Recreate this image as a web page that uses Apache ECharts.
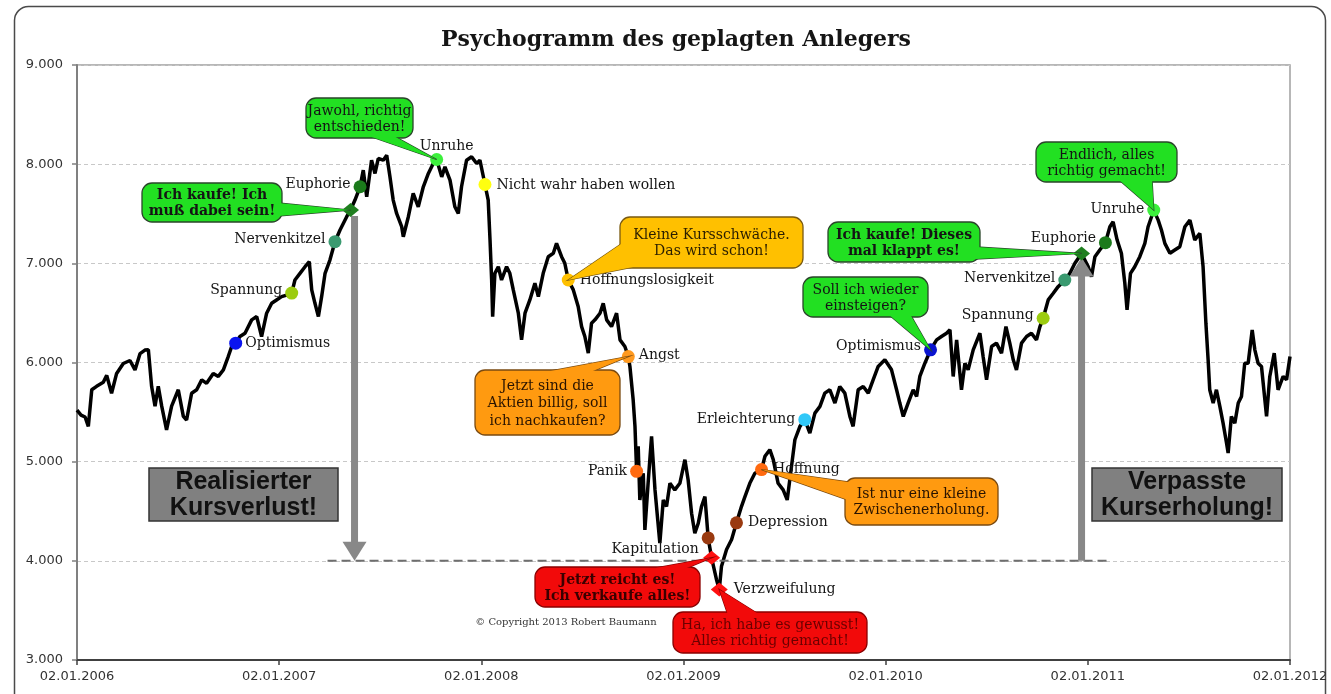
<!DOCTYPE html>
<html><head><meta charset="utf-8">
<script src="https://cdn.jsdelivr.net/npm/echarts@6/dist/echarts.min.js"></script>
<style>html,body{margin:0;padding:0;background:#fff}#c{width:1331px;height:694px}</style>
</head><body><div id="c"></div>
<script>
// ---------- DATA ----------
const titleText = 'Psychogramm des geplagten Anlegers';
const copyrightText = '\u00A9 Copyright 2013 Robert Baumann';

// dates as decimal years, values of the index
const dates = [
 2006.000,2006.020,2006.040,2006.056,2006.073,2006.097,2006.130,2006.147,2006.171,2006.196,2006.229,2006.262,2006.287,2006.312,2006.336,2006.353,2006.369,2006.386,2006.402,2006.419,2006.443,2006.468,2006.501,2006.526,2006.542,2006.567,2006.592,2006.617,2006.641,2006.674,2006.699,2006.724,2006.748,2006.765,2006.785,2006.806,2006.831,2006.864,2006.889,2006.913,2006.938,2006.963,2006.987,
 2007.012,2007.037,2007.062,2007.078,2007.103,2007.128,2007.149,2007.161,2007.177,2007.194,2007.210,2007.227,2007.251,2007.276,2007.301,2007.334,2007.353,2007.375,2007.400,2007.416,2007.433,2007.457,2007.474,2007.490,2007.515,2007.532,2007.548,2007.564,2007.581,2007.606,2007.614,2007.639,2007.663,2007.688,2007.713,2007.738,2007.762,2007.779,2007.804,2007.820,2007.845,2007.869,2007.886,2007.902,2007.927,2007.952,2007.977,2007.993,
 2008.001,2008.018,2008.034,2008.043,2008.051,2008.056,2008.067,2008.084,2008.100,2008.125,2008.141,2008.158,2008.183,2008.199,2008.216,2008.240,2008.265,2008.282,2008.306,2008.331,2008.356,2008.372,2008.397,2008.413,2008.430,2008.455,2008.479,2008.496,2008.512,2008.529,2008.545,2008.562,2008.587,2008.603,2008.620,2008.644,2008.669,2008.686,2008.710,2008.727,2008.735,2008.751,2008.760,2008.768,2008.776,2008.784,2008.801,2008.809,2008.826,2008.842,2008.859,2008.883,2008.900,2008.916,2008.933,2008.957,2008.982,
 2009.007,2009.023,2009.040,2009.056,2009.073,2009.089,2009.106,2009.122,2009.139,2009.163,2009.177,2009.188,2009.213,2009.238,2009.262,2009.287,2009.304,2009.328,2009.353,2009.386,2009.403,2009.427,2009.444,2009.468,2009.493,2009.513,2009.534,2009.551,2009.576,2009.600,2009.625,2009.650,2009.675,2009.699,2009.724,2009.749,2009.773,2009.798,2009.823,2009.839,2009.864,2009.889,2009.914,2009.938,2009.963,2009.996,
 2010.004,2010.029,2010.054,2010.070,2010.087,2010.111,2010.136,2010.153,2010.169,2010.194,2010.222,2010.252,2010.276,2010.301,2010.318,2010.334,2010.351,2010.375,2010.392,2010.408,2010.433,2010.466,2010.482,2010.499,2010.524,2010.548,2010.573,2010.595,2010.614,2010.631,2010.647,2010.672,2010.697,2010.721,2010.746,2010.763,2010.779,2010.804,2010.829,2010.853,2010.886,2010.911,2010.936,2010.969,
 2011.002,2011.018,2011.035,2011.059,2011.087,2011.109,2011.125,2011.145,2011.166,2011.183,2011.194,2011.211,2011.232,2011.257,2011.282,2011.298,2011.315,2011.326,2011.348,2011.364,2011.381,2011.406,2011.430,2011.455,2011.480,2011.505,2011.529,2011.554,2011.570,2011.584,2011.595,2011.603,2011.620,2011.636,2011.653,2011.669,2011.686,2011.694,2011.710,2011.727,2011.744,2011.760,2011.776,2011.793,2011.813,2011.826,2011.842,2011.859,2011.884,2011.900,2011.922,2011.941,2011.966,2011.983,2012.000
];
const dax = [
 5520,5470,5450,5356,5725,5760,5800,5870,5690,5890,5990,6020,5925,6090,6125,6130,5760,5560,5760,5560,5320,5560,5725,5456,5420,5690,5725,5825,5790,5890,5860,5925,6060,6160,6195,6262,6295,6430,6463,6262,6497,6597,6630,
 6664,6680,6700,6832,6899,6966,7016,6732,6597,6463,6664,6899,7033,7218,7336,7470,7537,7638,7772,7940,7671,8040,7906,8057,8040,8090,7872,7638,7503,7369,7268,7470,7705,7570,7772,7906,8007,8047,7872,7973,7839,7570,7503,7772,8040,8074,8007,8040,
 8050,7795,7638,7235,6832,6463,6899,6966,6832,6966,6899,6732,6497,6228,6497,6631,6799,6664,6899,7067,7101,7201,7067,7000,6832,6732,6564,6362,6262,6094,6396,6430,6497,6597,6430,6362,6497,6228,6161,6060,5960,5624,5356,4903,5154,4614,4883,4312,4815,5255,4715,4178,4614,4547,4782,4715,4782,
 5020,4815,4480,4279,4379,4547,4648,4231,4030,3812,3711,3946,4114,4215,4383,4550,4648,4782,4883,4920,5054,5121,5020,4782,4715,4614,4950,5221,5356,5423,5289,5490,5557,5691,5725,5591,5758,5691,5456,5356,5725,5758,5691,5825,5960,6027,
 6027,5926,5725,5591,5456,5591,5725,5658,5859,5993,6128,6228,6262,6295,6329,5859,6228,5725,5993,5926,6128,6295,6060,5826,6161,6195,6094,6362,6195,6027,5926,6195,6262,6295,6228,6362,6446,6631,6698,6765,6832,6899,7000,7100,
 6966,6866,7067,7134,7208,7369,7419,7235,7101,6799,6530,6899,6966,7067,7201,7369,7470,7537,7436,7336,7201,7101,7134,7168,7369,7436,7235,7302,6966,6396,6027,5725,5591,5725,5557,5389,5188,5087,5456,5389,5591,5658,5993,5993,6329,6128,5993,5960,5456,5859,6094,5725,5859,5826,6060
];

// phases of the investor psychology, placed on the curve
const moodNames = ['Optimismus','Spannung','Nervenkitzel','Kauf','Euphorie','Unruhe','Nicht wahr haben wollen','Hoffnungslosigkeit','Angst','Panik','Kapitulation','Verkauf','Verzweifulung','Depression','Hoffnung','Erleichterung','Optimismus','Spannung','Nervenkitzel','Kauf','Euphorie','Unruhe'];
const moodDates  = [2006.785,2007.062,2007.276,2007.353,2007.400,2007.779,2008.018,2008.430,2008.727,2008.768,2009.122,2009.139,2009.177,2009.262,2009.386,2009.600,2010.222,2010.779,2010.886,2010.969,2011.087,2011.326];
const moodValues = [6195,6700,7218,7537,7772,8047,7795,6832,6060,4903,4231,4030,3711,4383,4920,5423,6128,6446,6832,7100,7208,7537];

// speech bubbles: text and the phase they point to
const calloutTexts = [
 'Jawohl, richtig\nentschieden!',
 'Ich kaufe! Ich\nmuß dabei sein!',
 'Kleine Kursschwäche.\nDas wird schon!',
 'Jetzt sind die\nAktien billig, soll\nich nachkaufen?',
 'Ich kaufe! Dieses\nmal klappt es!',
 'Soll ich wieder\neinsteigen?',
 'Endlich, alles\nrichtig gemacht!',
 'Ist nur eine kleine\nZwischenerholung.',
 'Jetzt reicht es!\nIch verkaufe alles!',
 'Ha, ich habe es gewusst!\nAlles richtig gemacht!'
];
const calloutTargets = [5,3,7,8,19,16,21,14,11,12];

const boxTexts = ['Realisierter\nKursverlust!','Verpasste\nKurserholung!'];
const lossLevel = 4000;

// ---------- STYLES / LAYOUT ----------
const SERIF = '"DejaVu Serif", "Liberation Serif", serif';
const SANS = '"DejaVu Sans", sans-serif';
const moodStyle = [
 {c:'#0a14f0', pos:'right'},
 {c:'#9ccc10', pos:'left', off:[0,-3]},
 {c:'#3a9a70', pos:'left', off:[0,-2]},
 {c:'#1f7f1f', d:true},
 {c:'#1b7a1b', pos:'left', off:[0,-2]},
 {c:'#3cf03c', pos:'top', off:[10,3]},
 {c:'#ffff10', pos:'right', off:[2,1]},
 {c:'#ffc000', pos:'right', off:[2,0]},
 {c:'#ff9a20', pos:'right', off:[1,-1]},
 {c:'#ff6a10', pos:'left'},
 {c:'#9a3a10', pos:'left', off:[0,11]},
 {c:'#ff1010', d:true},
 {c:'#ff1010', d:true, pos:'right', off:[3,0]},
 {c:'#9a3a10', pos:'right', off:[2,0]},
 {c:'#ff6a10', pos:'right', off:[2,0]},
 {c:'#30c8f8', pos:'left'},
 {c:'#0a14d0', pos:'left', off:[0,-3]},
 {c:'#9ccc10', pos:'left', off:[0,-3]},
 {c:'#3a9a70', pos:'left', off:[0,-2]},
 {c:'#1f7f1f', d:true},
 {c:'#1b7a1b', pos:'left', off:[0,-4]},
 {c:'#3cf03c', pos:'left', off:[0,-1]}
];
const bubbleKinds = {
 green:{fill:'#22e022', stroke:'#2a452a', text:'#141414'},
 gold:{fill:'#ffc000', stroke:'#7a5a10', text:'#2a1e00'},
 orange:{fill:'#ff9a10', stroke:'#7a4a10', text:'#2a1400'},
 red:{fill:'#f20a0a', stroke:'#8a0000', text:'#3a0000'},
 red2:{fill:'#f20a0a', stroke:'#8a0000', text:'#6a0000'}
};
// box [x,y,w,h], tail base points (px), kind, bold
const calloutLayout = [
 {box:[306,98,107,40], base:[[366,135],[392,135]], kind:'green'},
 {box:[142,183,140,39], base:[[278,203],[278,216]], kind:'green', bold:true},
 {box:[620,217,183,51], base:[[624,242],[648,264]], kind:'gold'},
 {box:[475,370,145,65], base:[[540,373],[588,373]], kind:'orange'},
 {box:[828,222,152,40], base:[[976,247],[976,259]], kind:'green', bold:true},
 {box:[803,277,125,40], base:[[888,314],[910,314]], kind:'green'},
 {box:[1036,142,141,40], base:[[1118,179],[1152,179]], kind:'green'},
 {box:[845,478,153,47], base:[[848,482],[848,500]], kind:'orange'},
 {box:[535,567,165,40], base:[[645,570],[682,570]], kind:'red', bold:true},
 {box:[673,612,194,41], base:[[728,615],[760,615]], kind:'red2'}
];
const grayBoxes = [[149,468,189,53],[1092,468,190,53]];

// ---------- CHART ----------
const chart = echarts.init(document.getElementById('c'));
const lineData = dates.map((d,i)=>[d, dax[i]]);
const moodItems = moodNames.map((n,i)=>{
  const s = moodStyle[i];
  return {
    name:n, value:[moodDates[i], moodValues[i]],
    symbol: s.d ? 'diamond' : 'circle',
    symbolSize: s.d ? [17,14] : 13,
    itemStyle:{color:s.c, opacity:1},
    label:{show:!!s.pos, position:s.pos||'right', offset:s.off||[0,0], distance:3, formatter:n, color:'#151515', fontFamily:SERIF, fontSize:14}
  };
});

chart.setOption({
  animation:false,
  grid:{left:77,right:41,top:65,bottom:34,show:true,borderColor:'#a0a0a0',borderWidth:1.5,backgroundColor:'transparent'},
  xAxis:{type:'value',min:2006,max:2012,interval:1,
    axisLine:{lineStyle:{color:'#404040',width:2}},
    axisTick:{show:true,length:5,lineStyle:{color:'#404040',width:1.5}},
    axisLabel:{formatter:v=>'02.01.'+v,fontFamily:SANS,fontSize:13,color:'#333',margin:10},
    splitLine:{show:false}},
  yAxis:{type:'value',min:3000,max:9000,interval:1000,
    axisLine:{show:true,lineStyle:{color:'#808080',width:2}},
    axisTick:{show:true,length:5,lineStyle:{color:'#808080',width:1.5}},
    axisLabel:{formatter:v=>(v/1000).toFixed(3),fontFamily:SANS,fontSize:13,color:'#333',margin:14},
    splitLine:{lineStyle:{color:'#c8c8c8',type:[4,3],width:1}}},
  series:[
    {type:'line',data:lineData,symbol:'none',showSymbol:false,lineStyle:{color:'#000',width:3.5},z:3},
    {type:'scatter',data:moodItems,z:6,itemStyle:{opacity:1},emphasis:{disabled:true}}
  ]
});

const P = (x,y)=>chart.convertToPixel({gridIndex:0},[x,y]);
const g = [];
// outer frame
g.push({type:'rect',silent:true,z:0,shape:{x:14.5,y:6.5,width:1311,height:730,r:14},style:{fill:'none',stroke:'#4a4a4a',lineWidth:1.5}});
// title
g.push({type:'text',z:10,style:{text:titleText,x:676,y:40,font:'bold 22px '+SERIF,fill:'#151515',align:'center',verticalAlign:'middle',textAlign:'center',textVerticalAlign:'middle'}});
// copyright
g.push({type:'text',z:10,style:{text:copyrightText,x:566,y:622,font:'10px '+SERIF,fill:'#333',align:'center',verticalAlign:'middle',textAlign:'center',textVerticalAlign:'middle'}});

// loss arrows and level line
const iK1 = 3, iK2 = 19;
const k1 = P(moodDates[iK1], moodValues[iK1]);
const k2 = P(moodDates[iK2], moodValues[iK2]);
const lv = P(moodDates[iK1], lossLevel)[1];
const grayA = '#888888';
g.push({type:'line',z:4,shape:{x1:k1[0]-23,y1:lv,x2:k2[0]+25,y2:lv},style:{stroke:'#6e6e6e',lineWidth:2,lineDash:[9,5]}});
const ax1 = k1[0]+4;
g.push({type:'rect',z:4,shape:{x:ax1-3.5,y:k1[1]+6,width:7,height:lv-18-(k1[1]+6)},style:{fill:grayA}});
g.push({type:'polygon',z:4,shape:{points:[[ax1-12,lv-19],[ax1+12,lv-19],[ax1,lv]]},style:{fill:grayA}});
const ax2 = k2[0];
const tipY = k2[1]+4;
g.push({type:'rect',z:4,shape:{x:ax2-3.5,y:tipY+18,width:7,height:lv-(tipY+18)},style:{fill:grayA}});
g.push({type:'polygon',z:4,shape:{points:[[ax2-12,tipY+19],[ax2+12,tipY+19],[ax2,tipY]]},style:{fill:grayA}});

// gray boxes
grayBoxes.forEach((b,i)=>{
  g.push({type:'rect',z:20,shape:{x:b[0],y:b[1],width:b[2],height:b[3]},style:{fill:'#808080',stroke:'#333',lineWidth:1.5}});
  g.push({type:'text',z:21,style:{text:boxTexts[i],x:b[0]+b[2]/2,y:b[1]+b[3]/2+1,font:'bold 25px "Liberation Sans", Arial, sans-serif',fill:'#111',lineHeight:26,align:'center',verticalAlign:'middle',textAlign:'center',textVerticalAlign:'middle'}});
});

// speech bubbles
calloutTexts.forEach((t,i)=>{
  const L = calloutLayout[i];
  const k = bubbleKinds[L.kind];
  const m = calloutTargets[i];
  const tip = P(moodDates[m], moodValues[m]);
  const pts = [L.base[0], tip, L.base[1]];
  const [bx,by,bw,bh] = L.box;
  g.push({type:'polygon',z:30,shape:{points:pts},style:{fill:k.fill,stroke:k.stroke,lineWidth:1.3}});
  g.push({type:'rect',z:31,shape:{x:bx,y:by,width:bw,height:bh,r:10},style:{fill:k.fill,stroke:k.stroke,lineWidth:1.3}});
  g.push({type:'polygon',z:32,shape:{points:pts},style:{fill:k.fill}});
  const lines = t.split('\n').length;
  g.push({type:'text',z:33,style:{text:t,x:bx+bw/2,y:by+bh/2+1,font:(L.bold?'bold ':'')+'14px '+SERIF,fill:k.text,lineHeight:lines>2?17.5:16,align:'center',verticalAlign:'middle',textAlign:'center',textVerticalAlign:'middle'}});
});

chart.setOption({graphic:{elements:g}});
</script>
</body></html>
